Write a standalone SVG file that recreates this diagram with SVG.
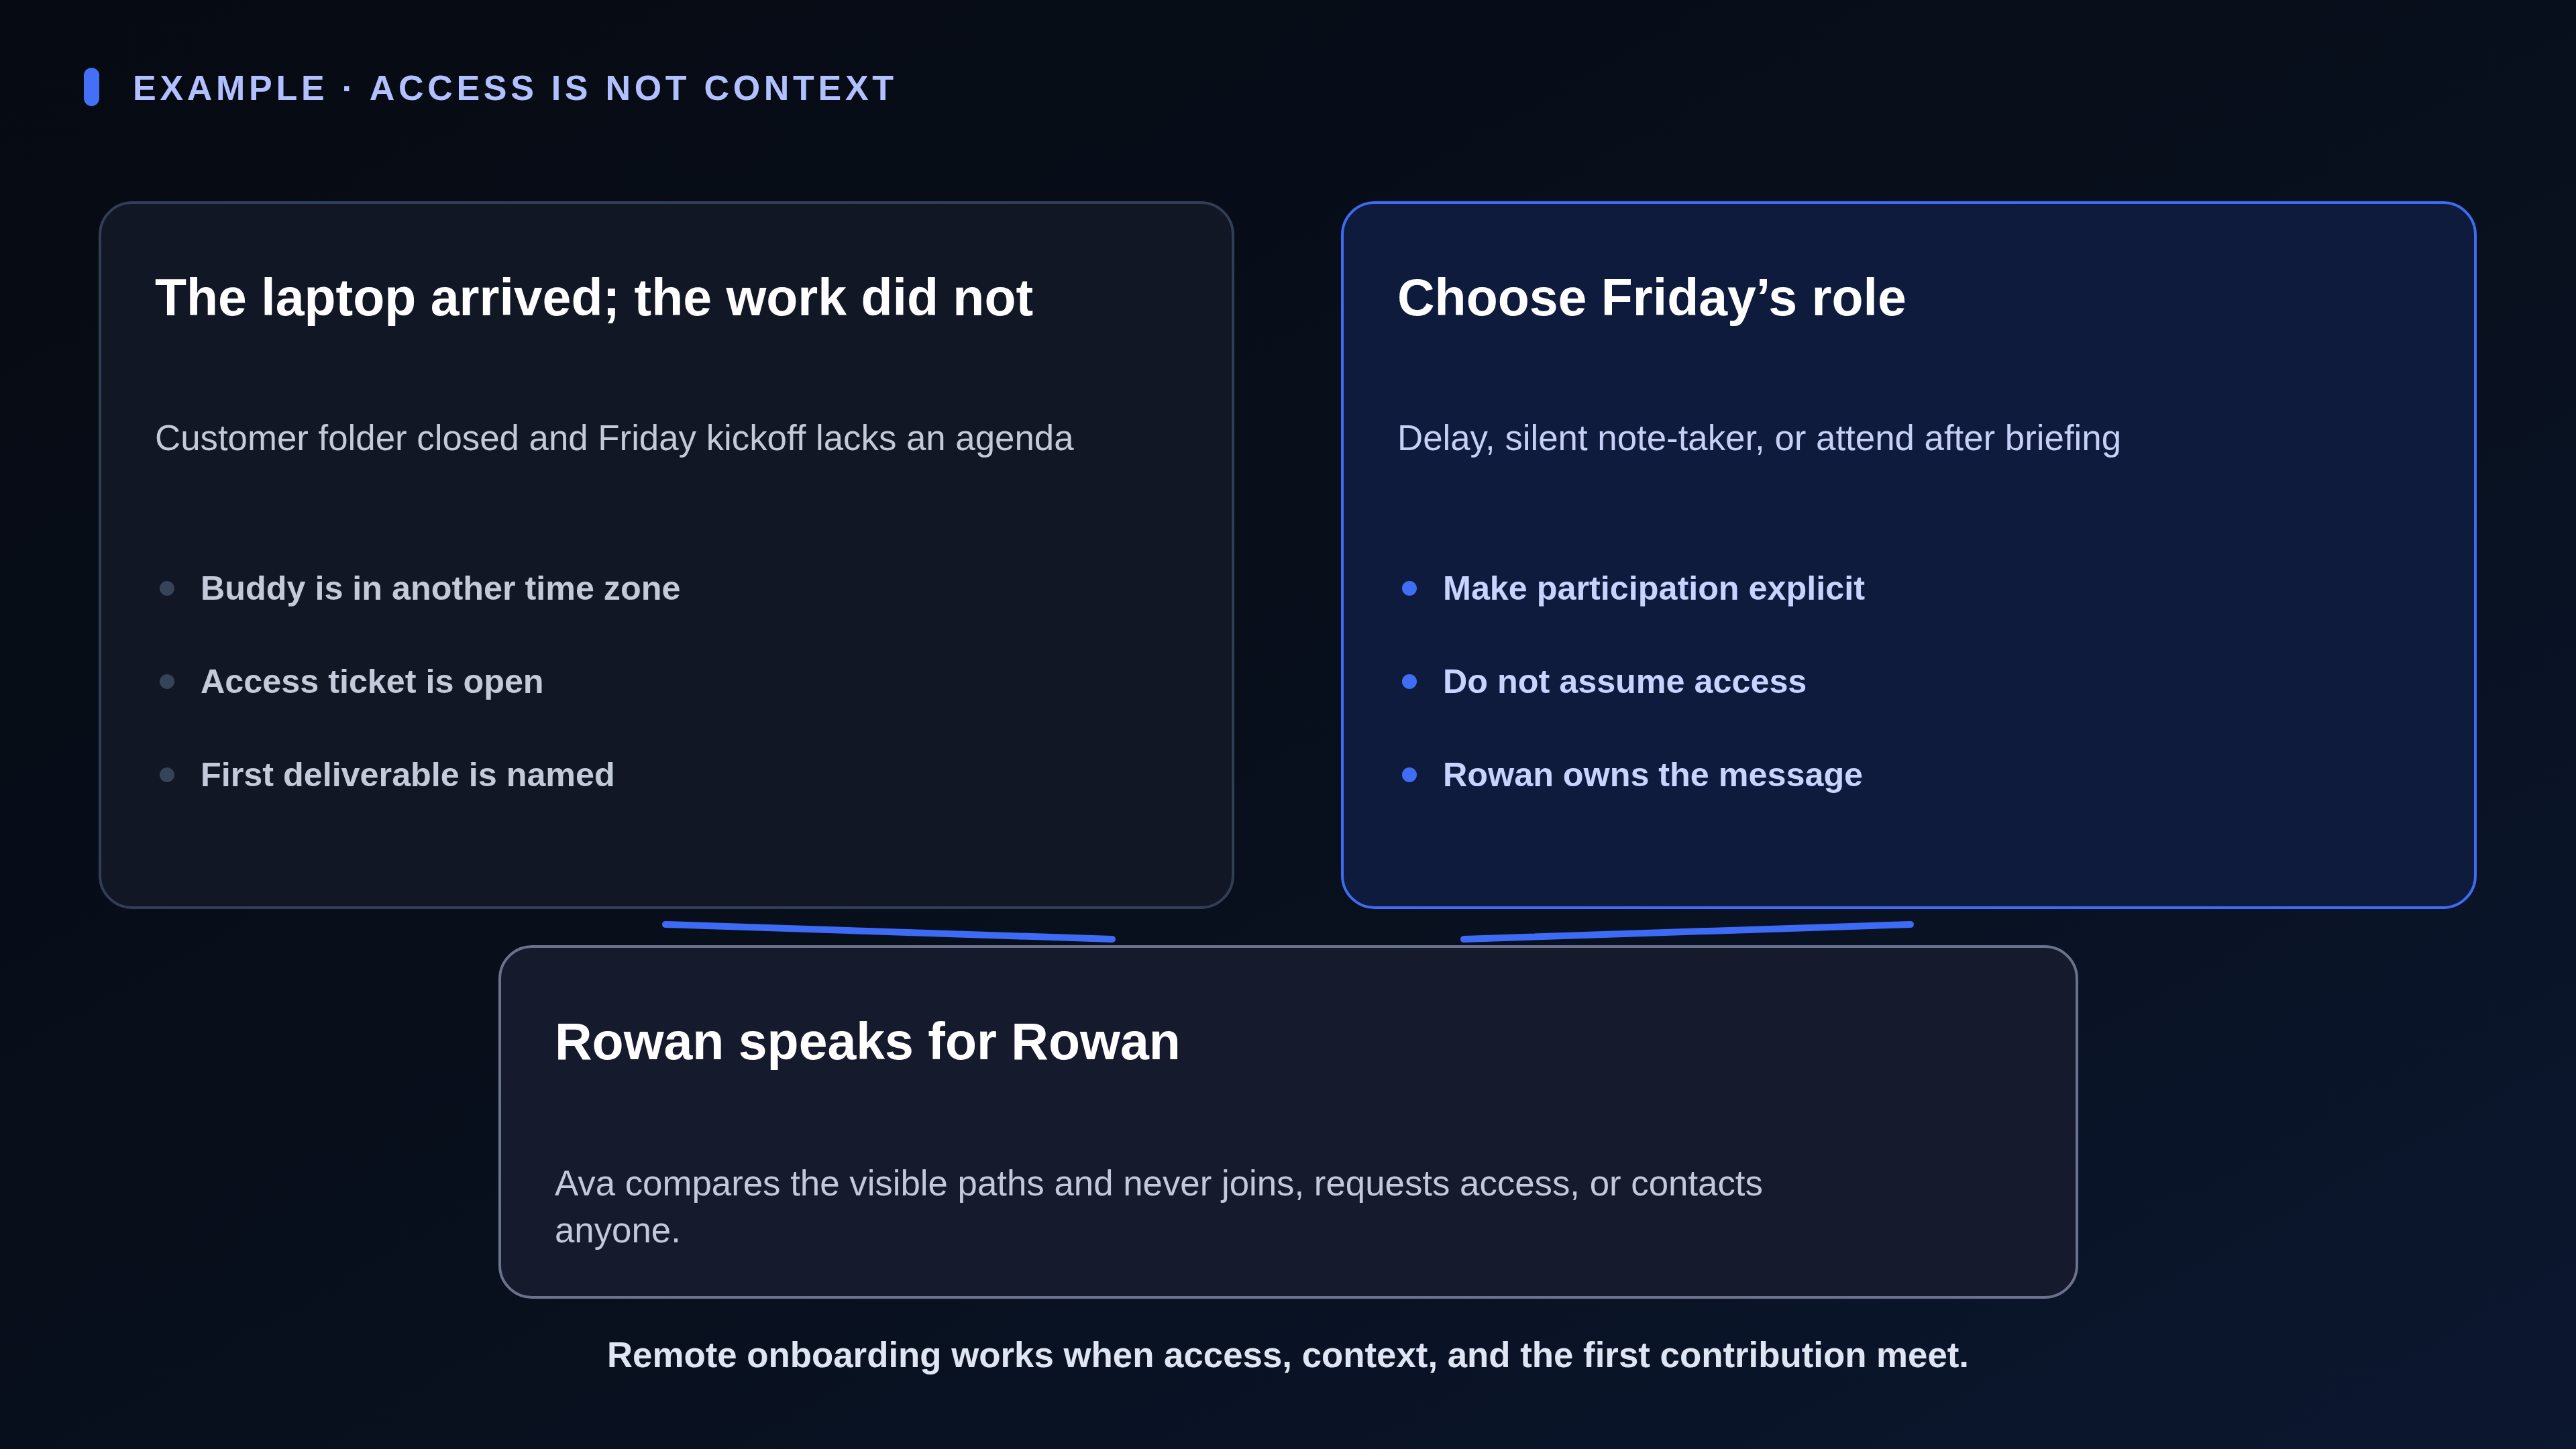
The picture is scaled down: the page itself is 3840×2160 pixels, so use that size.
<svg xmlns="http://www.w3.org/2000/svg" width="3840" height="2160" viewBox="0 0 3840 2160">
<defs>
<linearGradient id="bg" x1="0" y1="0" x2="1" y2="1">
<stop offset="0" stop-color="#060a12"/>
<stop offset="0.55" stop-color="#08101d"/>
<stop offset="1" stop-color="#0c1730"/>
</linearGradient>
<style>
.t{font-family:"Liberation Sans",Arial,sans-serif}
.title{font-size:77px;font-weight:bold;fill:#ffffff}
.sub{font-size:52.8px;font-weight:normal}
.bul{font-size:50.3px;font-weight:bold}
.conn{stroke:#3d6bf5;stroke-width:10;stroke-linecap:round;fill:none}
</style>
</defs>
<rect x="0" y="0" width="3840" height="2160" fill="url(#bg)"/>
<g id="header">
<rect x="125" y="101" width="23" height="57" rx="11.5" fill="#4370f7"/>
<text class="t" x="198" y="149" font-size="52" font-weight="bold" letter-spacing="5.7" fill="#b3c0ff">EXAMPLE · ACCESS IS NOT CONTEXT</text>
</g>
<g id="connectors">
<line class="conn" x1="992" y1="1378" x2="1658" y2="1400"/>
<line class="conn" x1="2182" y1="1400" x2="2848" y2="1378"/>
</g>
<g id="card-laptop">
<rect x="149" y="302" width="1689" height="1051" rx="48" fill="#111725" stroke="#323e55" stroke-width="4"/>
<text class="t title" x="231" y="470">The laptop arrived; the work did not</text>
<text class="t sub" x="231" y="671" fill="#c4cad6">Customer folder closed and Friday kickoff lacks an agenda</text>
<circle cx="249" cy="877" r="11" fill="#374359"/>
<text class="t bul" x="299" y="894" fill="#c3cbdb">Buddy is in another time zone</text>
<circle cx="249" cy="1016" r="11" fill="#374359"/>
<text class="t bul" x="299" y="1033" fill="#c3cbdb">Access ticket is open</text>
<circle cx="249" cy="1155" r="11" fill="#374359"/>
<text class="t bul" x="299" y="1172" fill="#c3cbdb">First deliverable is named</text>
</g>
<g id="card-role">
<rect x="2001" y="302" width="1689" height="1051" rx="48" fill="#0e1b3d" stroke="#3e6cf2" stroke-width="4"/>
<text class="t title" x="2083" y="470">Choose Friday’s role</text>
<text class="t sub" x="2083" y="671" fill="#c6cff5">Delay, silent note-taker, or attend after briefing</text>
<circle cx="2101" cy="877" r="11" fill="#3f6ef6"/>
<text class="t bul" x="2151" y="894" fill="#c9d3ff">Make participation explicit</text>
<circle cx="2101" cy="1016" r="11" fill="#3f6ef6"/>
<text class="t bul" x="2151" y="1033" fill="#c9d3ff">Do not assume access</text>
<circle cx="2101" cy="1155" r="11" fill="#3f6ef6"/>
<text class="t bul" x="2151" y="1172" fill="#c9d3ff">Rowan owns the message</text>
</g>
<g id="card-rowan">
<rect x="745" y="1411" width="2351" height="523" rx="48" fill="#151a2c" stroke="#6c728c" stroke-width="4"/>
<text class="t title" x="827" y="1579">Rowan speaks for Rowan</text>
<text class="t sub" x="827" y="1782" fill="#c5c8d8">Ava compares the visible paths and never joins, requests access, or contacts</text>
<text class="t sub" x="827" y="1852" fill="#c5c8d8">anyone.</text>
</g>
<g id="footer">
<text class="t" x="1920" y="2038" text-anchor="middle" font-size="52.8" font-weight="bold" fill="#dfe5f2">Remote onboarding works when access, context, and the first contribution meet.</text>
</g>
</svg>
